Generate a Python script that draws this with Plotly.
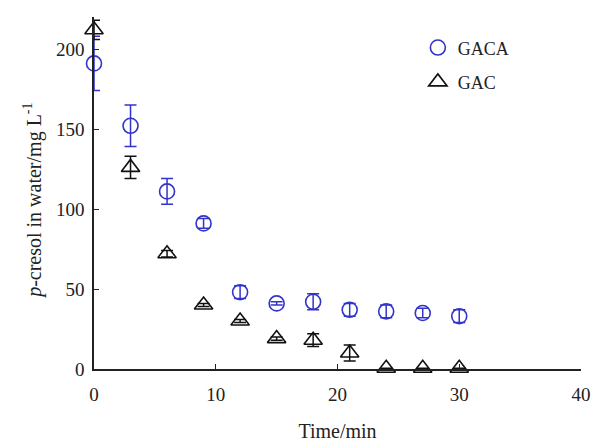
import plotly.graph_objects as go

time_min = [0, 3, 6, 9, 12, 15, 18, 21, 24, 27, 30]
gaca = [191, 152, 111, 91, 48, 41, 42, 37, 36, 35, 33]
gaca_err = [17, 13, 8, 3, 4, 1, 5, 4, 4, 3, 4]
gac = [212, 126, 72, 40, 30, 19, 18, 10, 0.5, 0.5, 0.5]
gac_err = [6, 7, 2, 1, 1, 1, 4, 5, 0, 0, 0]

font_family = "Liberation Serif"

fig = go.Figure()
fig.add_trace(go.Scatter(
    x=time_min, y=gaca, mode="markers", name="GACA", legendgroup="a",
    marker=dict(symbol="circle-open", size=15, color="#3333cc", line=dict(width=1.6, color="#3333cc")),
    error_y=dict(type="data", array=gaca_err, visible=True, color="#3333cc", thickness=1.5, width=6),
    cliponaxis=False,
))
fig.add_trace(go.Scatter(
    x=time_min, y=gac, mode="markers", name="GAC", legendgroup="b",
    marker=dict(symbol="triangle-up-open", size=16, color="#111111", line=dict(width=1.6, color="#111111")),
    error_y=dict(type="data", array=gac_err, visible=True, color="#111111", thickness=1.5, width=6),
    cliponaxis=False,
))

fig.update_layout(
    width=592, height=442,
    margin=dict(l=94, r=11, t=17, b=73, autoexpand=False),
    paper_bgcolor="white", plot_bgcolor="white",
    font=dict(family=font_family, size=18, color="#222222"),
    showlegend=True,
    legend=dict(x=0.665, y=0.965, xanchor="left", yanchor="top",
                traceorder="grouped", tracegroupgap=8,
                font=dict(family=font_family, size=18), bgcolor="rgba(0,0,0,0)"),
    xaxis=dict(range=[0, 40], tickvals=[0, 10, 20, 30, 40], ticks="inside", ticklen=5,
               tickwidth=1.3, tickcolor="#222222", automargin=False,
               showline=True, linecolor="#222222", linewidth=1.5, showgrid=False, zeroline=False,
               tickfont=dict(family=font_family, size=19),
               title=dict(text="Time/min", standoff=21, font=dict(family=font_family, size=20)),
               ticklabelstandoff=7),
    yaxis=dict(range=[0, 220], tickvals=[0, 50, 100, 150, 200], ticks="inside", ticklen=5,
               tickwidth=1.3, tickcolor="#222222", automargin=False,
               showline=True, linecolor="#222222", linewidth=1.5, showgrid=False, zeroline=False,
               tickfont=dict(family=font_family, size=19),
               ticklabelstandoff=4),
    annotations=[dict(
        text="<i>p</i>-cresol in water/mg L<sup>-1</sup>",
        xref="paper", yref="paper", x=-0.125, y=0.478,
        xanchor="center", yanchor="middle", textangle=-90, showarrow=False,
        font=dict(family=font_family, size=20, color="#222222"),
    )],
)

fig.write_html("out.html")
